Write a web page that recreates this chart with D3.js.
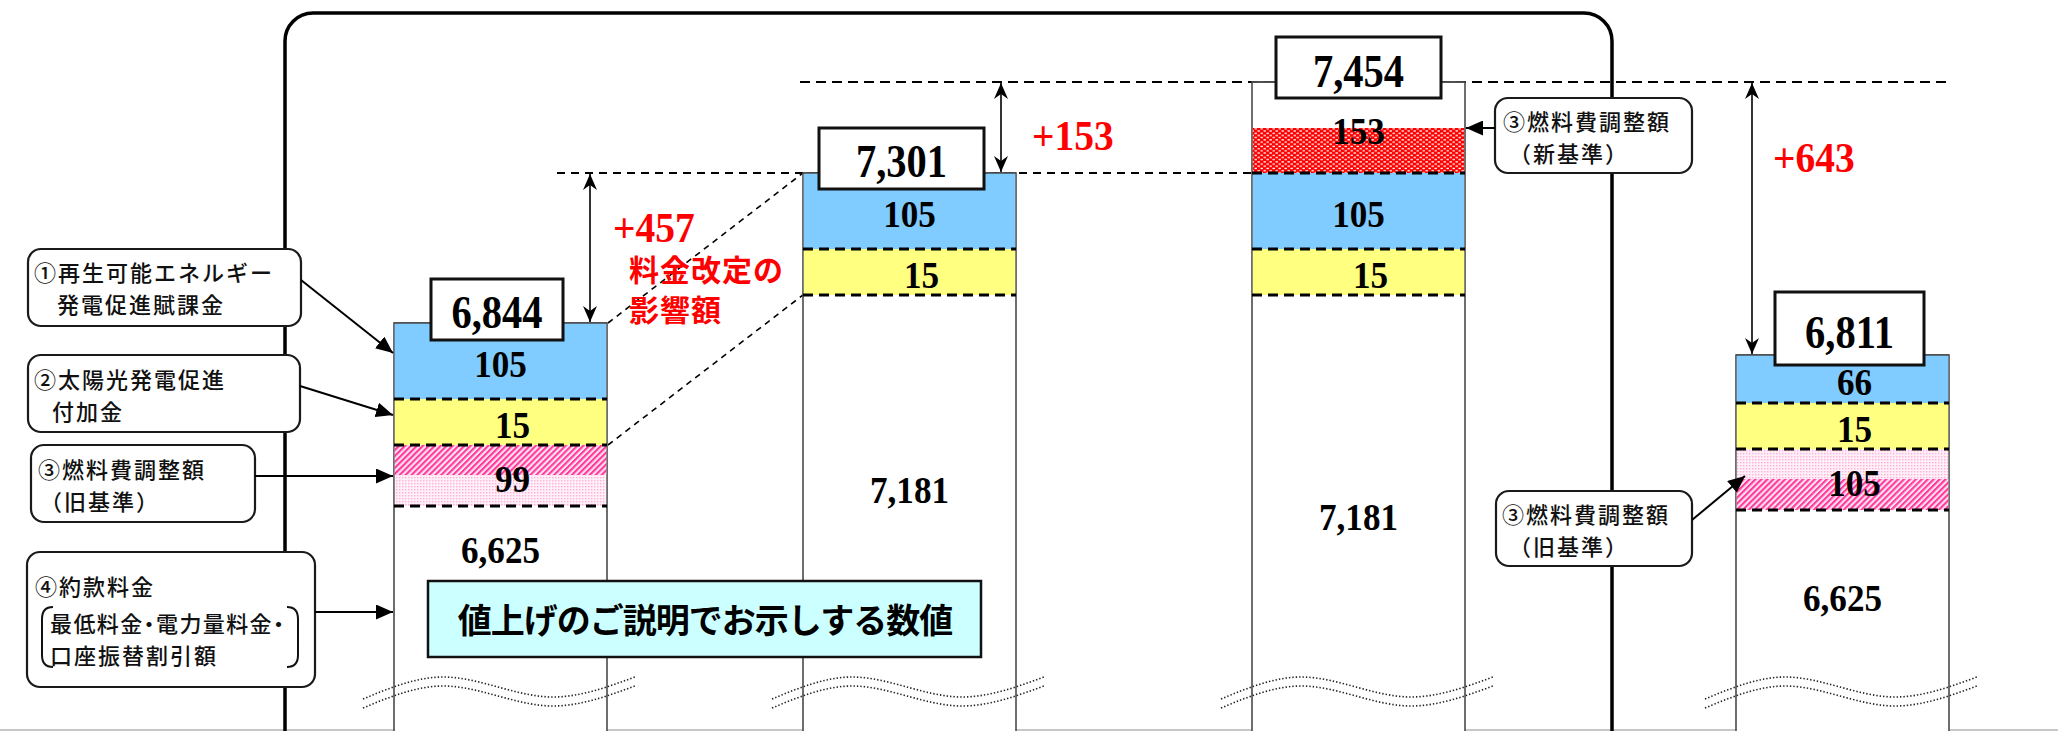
<!DOCTYPE html>
<html><head><meta charset="utf-8">
<script src="https://cdn.jsdelivr.net/npm/d3@7"></script>
<style>
html,body{margin:0;padding:0;background:#fff;}
svg{display:block;}
</style></head>
<body>
<svg id="chart" width="2058" height="731"></svg>
<script>
// ================= DATA =================
const columns = ["現行（旧基準）", "改定後（旧基準）", "改定後（新基準）", "比較"];
const totals = [6844, 7301, 7454, 6811];
const renewableLevy = [105, 105, 105, 66];          // ①再生可能エネルギー発電促進賦課金
const solarSurcharge = [15, 15, 15, 15];            // ②太陽光発電促進付加金
const fuelAdjustOld = [99, null, null, 105];        // ③燃料費調整額（旧基準）
const fuelAdjustNew = [null, null, 153, null];      // ③燃料費調整額（新基準）
const contractCharge = [6625, 7181, 7181, 6625];    // ④約款料金
const increases = [457, 153, 643];
const increaseNote = ["料金改定の", "影響額"];
const leftNotes = [
  ["①再生可能エネルギー", "発電促進賦課金"],
  ["②太陽光発電促進", "付加金"],
  ["③燃料費調整額", "（旧基準）"],
  ["④約款料金", "最低料金・電力量料金・", "口座振替割引額"]
];
const rightNotes = [["③燃料費調整額", "（新基準）"], ["③燃料費調整額", "（旧基準）"]];
const bannerText = "値上げのご説明でお示しする数値";

// ================= LAYOUT (schematic, not to scale) =================
const svg = d3.select("#chart");
const fmt = d3.format(",");
const fmtSigned = d3.format("+,");
const x = d3.scaleOrdinal().domain(columns).range([394, 803, 1252, 1736]);
const barW = 213;
const barTop = d3.scaleOrdinal().domain(columns).range([323, 173, 82, 355]);
const bands = {
  renew:   [[323, 399], [173, 249], [173, 249], [355, 403]],
  solar:   [[399, 445], [249, 295], [249, 295], [403, 449]],
  fuelOld: [[445, 506], null, null, [449, 510]],
  fuelNew: [null, null, [128, 173], null]
};
const labelDx = {renew: [0, 0, 0, 12], solar: [12, 12, 12, 12], fuelOld: [12, 0, 0, 12], fuelNew: [0, 0, 0, 0]};
const baseLabelY = [563, 503, 530, 611];
const totalBox = [[431, 279, 132, 61], [819, 128, 165, 61], [1276, 37, 165, 61], [1775, 292, 149, 73]];
const totalBaseline = [328, 177, 87, 348];

const NUM_FONT = "'Liberation Serif','Times New Roman',serif";
const JP_FONT = "'Noto Sans CJK JP','Noto Sans CJK SC',sans-serif";

// ================= DEFS =================
const defs = svg.append("defs");
const hatch = defs.append("pattern").attr("id", "hatch").attr("patternUnits", "userSpaceOnUse")
  .attr("width", 4.2).attr("height", 4.2).attr("patternTransform", "rotate(45)");
hatch.append("rect").attr("width", 4.2).attr("height", 4.2).attr("fill", "#ffe3f1");
hatch.append("rect").attr("width", 2.1).attr("height", 4.2).attr("fill", "#ff3a9c");

const lightPink = defs.append("pattern").attr("id", "lpink").attr("patternUnits", "userSpaceOnUse")
  .attr("width", 3).attr("height", 3);
lightPink.append("rect").attr("width", 3).attr("height", 3).attr("fill", "#fff0f8");
lightPink.append("rect").attr("width", 1.4).attr("height", 1.4).attr("fill", "#ffb0d8");

const redDots = defs.append("pattern").attr("id", "reddots").attr("patternUnits", "userSpaceOnUse")
  .attr("width", 6).attr("height", 4.4);
redDots.append("rect").attr("width", 6).attr("height", 4.4).attr("fill", "#ff0000");
redDots.append("rect").attr("x", 0.5).attr("y", 0.6).attr("width", 2.4).attr("height", 1.3).attr("fill", "#fff");
redDots.append("rect").attr("x", 3.5).attr("y", 2.8).attr("width", 2.4).attr("height", 1.3).attr("fill", "#fff");

defs.append("marker").attr("id", "stealth").attr("viewBox", "0 0 16 14").attr("refX", 16).attr("refY", 7)
  .attr("markerWidth", 16).attr("markerHeight", 14).attr("markerUnits", "userSpaceOnUse")
  .attr("orient", "auto-start-reverse")
  .append("path").attr("d", "M0,0 L16,7 L0,14 L5,7 Z").attr("fill", "#000");
defs.append("marker").attr("id", "tri").attr("viewBox", "0 0 17 15").attr("refX", 17).attr("refY", 7.5)
  .attr("markerWidth", 17).attr("markerHeight", 15).attr("markerUnits", "userSpaceOnUse")
  .attr("orient", "auto")
  .append("path").attr("d", "M0,0 L17,7.5 L0,15 Z").attr("fill", "#000");

// ================= FRAME =================
svg.append("rect").attr("x", 0).attr("y", 729).attr("width", 2058).attr("height", 2).attr("fill", "#c8c8c8");
svg.append("path")
  .attr("d", "M285,760 V41 A28,28 0 0 1 313,13 H1584 A28,28 0 0 1 1612,41 V760")
  .attr("fill", "none").attr("stroke", "#000").attr("stroke-width", 3.5);

// ================= REFERENCE DASHED LINES =================
const ref = svg.append("g").attr("fill", "none").attr("stroke", "#000");
ref.append("line").attr("x1", 557).attr("x2", x(columns[2])).attr("y1", barTop(columns[1])).attr("y2", barTop(columns[1]))
  .attr("stroke-width", 2).attr("stroke-dasharray", "8,6");
ref.append("line").attr("x1", x(columns[1]) - 3).attr("x2", x(columns[3]) + barW).attr("y1", barTop(columns[2])).attr("y2", barTop(columns[2]))
  .attr("stroke-width", 2.2).attr("stroke-dasharray", "10,6");
// diagonal connectors
ref.append("line").attr("x1", x(columns[0]) + barW + 1).attr("y1", bands.renew[0][0])
  .attr("x2", x(columns[1])).attr("y2", bands.renew[1][0]).attr("stroke-width", 1.6).attr("stroke-dasharray", "6,5");
ref.append("line").attr("x1", x(columns[0]) + barW + 1).attr("y1", bands.solar[0][1])
  .attr("x2", x(columns[1])).attr("y2", bands.solar[1][1]).attr("stroke-width", 1.6).attr("stroke-dasharray", "6,5");

// ================= BARS =================
const bars = svg.append("g");
columns.forEach((c, i) => {
  const g = bars.append("g");
  const x0 = x(c);
  g.append("rect").attr("x", x0).attr("y", barTop(c)).attr("width", barW).attr("height", 760 - barTop(c))
    .attr("fill", "#fff").attr("stroke", "#4a4a4a").attr("stroke-width", 1.6);
  const segs = [];
  if (fuelAdjustNew[i] != null) segs.push({key: "fuelNew", v: fuelAdjustNew[i], b: bands.fuelNew[i]});
  if (renewableLevy[i] != null) segs.push({key: "renew", v: renewableLevy[i], b: bands.renew[i]});
  if (solarSurcharge[i] != null) segs.push({key: "solar", v: solarSurcharge[i], b: bands.solar[i]});
  if (fuelAdjustOld[i] != null) segs.push({key: "fuelOld", v: fuelAdjustOld[i], b: bands.fuelOld[i]});

  segs.forEach(s => {
    const [y0, y1] = s.b;
    if (s.key === "renew") {
      g.append("rect").attr("x", x0 + 0.8).attr("y", y0).attr("width", barW - 1.6).attr("height", y1 - y0).attr("fill", "#80cbff");
    } else if (s.key === "solar") {
      g.append("rect").attr("x", x0 + 0.8).attr("y", y0).attr("width", barW - 1.6).attr("height", y1 - y0).attr("fill", "#ffff80");
    } else if (s.key === "fuelNew") {
      g.append("rect").attr("x", x0 + 0.8).attr("y", y0).attr("width", barW - 1.6).attr("height", y1 - y0).attr("fill", "url(#reddots)");
    } else {
      const mid = Math.round((y0 + y1) / 2) - 3;
      const hatchTop = i === 0;
      g.append("rect").attr("x", x0 + 0.8).attr("y", y0).attr("width", barW - 1.6).attr("height", y1 - y0).attr("fill", "url(#lpink)");
      if (hatchTop) g.append("rect").attr("x", x0 + 0.8).attr("y", y0).attr("width", barW - 1.6).attr("height", mid - y0 + 2).attr("fill", "url(#hatch)");
      else g.append("rect").attr("x", x0 + 0.8).attr("y", mid + 2).attr("width", barW - 1.6).attr("height", y1 - mid - 2).attr("fill", "url(#hatch)");
    }
  });
  // thin top edge of bar (solid)
  g.append("line").attr("x1", x0).attr("x2", x0 + barW).attr("y1", barTop(c)).attr("y2", barTop(c))
    .attr("stroke", "#4a4a4a").attr("stroke-width", 1.6);
  // dashed boundaries: bottom of every segment
  segs.forEach(s => {
    g.append("line").attr("x1", x0).attr("x2", x0 + barW).attr("y1", s.b[1]).attr("y2", s.b[1])
      .attr("stroke", "#000").attr("stroke-width", 3).attr("stroke-dasharray", "10,6");
  });
  // segment labels
  segs.forEach(s => {
    const cx = x0 + barW / 2 + labelDx[s.key][i];
    const by = s.key === "fuelNew" ? s.b[0] + 16 : (s.b[0] + s.b[1]) / 2 + 16;
    g.append("text").attr("transform", `translate(${cx},${by}) scale(0.95,1)`)
      .attr("text-anchor", "middle").attr("font-family", NUM_FONT).attr("font-weight", "bold")
      .attr("font-size", 37).attr("fill", "#000").text(fmt(s.v));
  });
  // base (contract charge) label
  g.append("text").attr("transform", `translate(${x0 + barW / 2},${baseLabelY[i]}) scale(0.9,1)`)
    .attr("text-anchor", "middle").attr("font-family", NUM_FONT).attr("font-weight", "bold")
    .attr("font-size", 39).attr("fill", "#000").text(fmt(contractCharge[i]));
});

// ================= WAVY BREAK LINES =================
const wave = d3.line().curve(d3.curveMonotoneX);
columns.forEach(c => {
  const x0 = x(c) - 31;
  const pts = [[0, 699], [80, 677], [190, 697], [272, 677]];
  [0, 9].forEach(off => {
    svg.append("path").attr("d", wave(pts.map(p => [x0 + p[0], p[1] + off])))
      .attr("fill", "none").attr("stroke", "#222").attr("stroke-width", 1.6).attr("stroke-dasharray", "1.4,2");
  });
});

// ================= TOTAL BOXES =================
columns.forEach((c, i) => {
  const [bx, by, bw, bh] = totalBox[i];
  svg.append("rect").attr("x", bx).attr("y", by).attr("width", bw).attr("height", bh)
    .attr("fill", "#fff").attr("stroke", "#111").attr("stroke-width", 3);
  svg.append("text").attr("transform", `translate(${bx + bw / 2},${totalBaseline[i]}) scale(0.88,1)`)
    .attr("text-anchor", "middle").attr("font-family", NUM_FONT).attr("font-weight", "bold")
    .attr("font-size", 46).attr("fill", "#000").text(fmt(totals[i]));
});

// ================= DIFFERENCE ARROWS =================
const diffArrows = [
  {x: 590, y1: barTop(columns[1]), y2: barTop(columns[0]), tx: 613, ty: 242},
  {x: 1001, y1: barTop(columns[2]), y2: barTop(columns[1]), tx: 1032, ty: 150},
  {x: 1752, y1: barTop(columns[2]), y2: barTop(columns[3]), tx: 1773, ty: 172}
];
diffArrows.forEach((a, i) => {
  svg.append("line").attr("x1", a.x).attr("x2", a.x).attr("y1", a.y1 + 1).attr("y2", a.y2 - 1)
    .attr("stroke", "#000").attr("stroke-width", 1.6)
    .attr("marker-start", "url(#stealth)").attr("marker-end", "url(#stealth)");
  svg.append("text").attr("transform", `translate(${a.tx},${a.ty}) scale(0.94,1)`)
    .attr("font-family", NUM_FONT).attr("font-weight", "bold").attr("font-size", 42)
    .attr("fill", "#ff0000").text(fmtSigned(increases[i]));
});
const note = svg.append("text").attr("font-family", JP_FONT).attr("font-weight", "bold")
  .attr("font-size", 30).attr("letter-spacing", 1).attr("fill", "#ff0000");
increaseNote.forEach((t, i) => {
  note.append("tspan").attr("x", 629).attr("y", 281 + i * 40).text(t);
});

// ================= CALLOUTS =================
function callout(box, lines, arrow) {
  const g = svg.append("g");
  g.append("rect").attr("x", box[0]).attr("y", box[1]).attr("width", box[2]).attr("height", box[3])
    .attr("rx", 13).attr("ry", 13).attr("fill", "#fff").attr("stroke", "#1a1a1a").attr("stroke-width", 2.2);
  const t = g.append("text").attr("font-family", JP_FONT).attr("font-weight", 500)
    .attr("font-size", 22).attr("letter-spacing", 2).attr("fill", "#111");
  lines.forEach(l => {
    const ts = t.append("tspan").attr("x", l.x).attr("y", l.y).text(l.t);
    if (l.palt) ts.style("font-feature-settings", "'palt'").attr("letter-spacing", 1.4);
  });
  g.append("line").attr("x1", arrow[0]).attr("y1", arrow[1]).attr("x2", arrow[2]).attr("y2", arrow[3])
    .attr("stroke", "#000").attr("stroke-width", 2).attr("marker-end", "url(#tri)");
  return g;
}
callout([28, 249, 273, 77], [{t: leftNotes[0][0], x: 34, y: 281}, {t: leftNotes[0][1], x: 57, y: 313}], [301, 280, 393, 353]);
callout([28, 355, 272, 77], [{t: leftNotes[1][0], x: 34, y: 388}, {t: leftNotes[1][1], x: 52, y: 420}], [300, 386, 393, 415]);
callout([31, 445, 224, 77], [{t: leftNotes[2][0], x: 38, y: 478}, {t: leftNotes[2][1], x: 40, y: 510}], [255, 476, 393, 476]);
const c4 = callout([27, 552, 288, 135], [
  {t: leftNotes[3][0], x: 35, y: 595},
  {t: leftNotes[3][1], x: 50, y: 632, palt: true},
  {t: leftNotes[3][2], x: 50, y: 664}], [315, 612, 393, 612]);
c4.append("path").attr("d", "M53,607 Q42,607 42,619 V655 Q42,667 53,667").attr("fill", "none").attr("stroke", "#111").attr("stroke-width", 2);
c4.append("path").attr("d", "M287,607 Q298,607 298,619 V655 Q298,667 287,667").attr("fill", "none").attr("stroke", "#111").attr("stroke-width", 2);

callout([1495, 98, 197, 75], [{t: rightNotes[0][0], x: 1503, y: 130}, {t: rightNotes[0][1], x: 1509, y: 162}], [1495, 128, 1466, 128]);
callout([1496, 491, 196, 75], [{t: rightNotes[1][0], x: 1502, y: 523}, {t: rightNotes[1][1], x: 1509, y: 555}], [1692, 520, 1745, 476]);

// ================= BANNER =================
svg.append("rect").attr("x", 428).attr("y", 581).attr("width", 553).attr("height", 76)
  .attr("fill", "#ccffff").attr("stroke", "#111").attr("stroke-width", 2.5);
svg.append("text").attr("x", 705).attr("y", 633).attr("text-anchor", "middle").attr("font-family", JP_FONT)
  .attr("font-weight", "bold").attr("font-size", 34).attr("letter-spacing", -1).attr("fill", "#000").text(bannerText);
</script>
</body></html>
